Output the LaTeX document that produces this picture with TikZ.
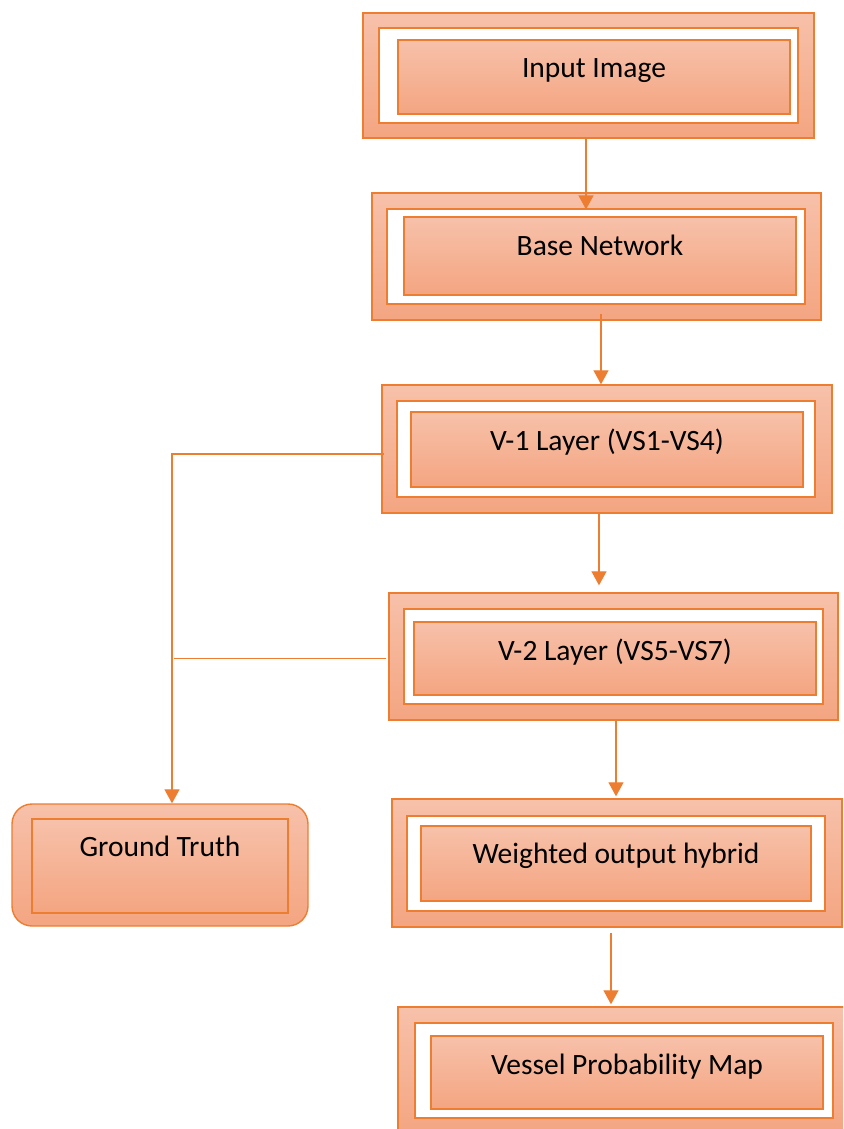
\documentclass[tikz,border=0pt]{standalone}
\usepackage{fontspec}
\setmainfont{Carlito}
\usetikzlibrary{positioning,arrows.meta,calc}
\definecolor{FlowLine}{RGB}{237,125,49}
\definecolor{FlowTop}{RGB}{247,193,170}
\definecolor{FlowBottom}{RGB}{244,165,129}

\begin{document}
\begin{tikzpicture}[
  x=1pt, y=-1pt,
  font=\fontsize{29.5}{35}\selectfont,
  >={Triangle[width=15pt,length=14pt]},
  stageOuter/.style={
    rectangle, draw=FlowLine, line width=1.4pt,
    top color=FlowTop, bottom color=FlowBottom, inner sep=0pt
  },
  stageBand/.style={
    rectangle, draw=FlowLine, line width=1.2pt, fill=white, inner sep=0pt
  },
  stageCore/.style={
    rectangle, draw=FlowLine, line width=1.2pt,
    top color=FlowTop, bottom color=FlowBottom, inner sep=0pt
  },
  caption/.style={anchor=base, inner sep=0pt, text=black},
  arrow/.style={->, line width=1.3pt, draw=FlowLine},
  link/.style={line width=1.3pt, draw=FlowLine}
]
\useasboundingbox (0,0) rectangle (843,1129);
\clip (0,0) rectangle (843,1129);

% Main pipeline: outer frame, white band, core box
\node[stageOuter, minimum width=451pt, minimum height=125pt] (inImg) at (588.5,75.5) {};
\node[stageBand, minimum width=419pt, minimum height=95pt] (inImgBand) at (588.5,75.5) {};
\node[stageCore, minimum width=392pt, minimum height=74pt] (inImgCore) at (594,77) {};

\node[stageOuter, minimum width=449pt, minimum height=127pt] (baseNet) at (596.5,256.5) {};
\node[stageBand, minimum width=418pt, minimum height=95pt] (baseNetBand) at (596,256.5) {};
\node[stageCore, minimum width=392pt, minimum height=78pt] (baseNetCore) at (600,256) {};

\node[stageOuter, minimum width=450pt, minimum height=128pt] (vOne) at (607,449) {};
\node[stageBand, minimum width=418pt, minimum height=96pt] (vOneBand) at (606,449) {};
\node[stageCore, minimum width=392pt, minimum height=75pt] (vOneCore) at (607,449.5) {};

\node[stageOuter, minimum width=449pt, minimum height=127pt] (vTwo) at (613.5,656.5) {};
\node[stageBand, minimum width=419pt, minimum height=95pt] (vTwoBand) at (613.5,656.5) {};
\node[stageCore, minimum width=402pt, minimum height=73pt] (vTwoCore) at (615,658.5) {};

\node[stageOuter, minimum width=450pt, minimum height=128pt] (wOut) at (617,863) {};
\node[stageBand, minimum width=418pt, minimum height=95pt] (wOutBand) at (616,863.5) {};
\node[stageCore, minimum width=390pt, minimum height=75pt] (wOutCore) at (616,863.5) {};

\node[stageOuter, minimum width=450pt, minimum height=127pt] (vpm) at (623,1070.5) {};
\node[stageBand, minimum width=418pt, minimum height=95pt] (vpmBand) at (624,1070.5) {};
\node[stageCore, minimum width=392pt, minimum height=73pt] (vpmCore) at (627,1072.5) {};

% Ground truth box on the left
\node[stageOuter, rounded corners=20pt, minimum width=296pt, minimum height=122pt] (gt) at (160,865) {};
\node[stageCore, minimum width=256pt, minimum height=94pt] (gtCore) at (160,866) {};

% --- captions ---
\node[caption] (inImgTxt) at ($(inImgCore.north)+(0,38)$) {Input Image};
\node[caption] (baseNetTxt) at ($(baseNetCore.north)+(0,39.5)$) {Base Network};
\node[caption] (vOneTxt) at ($(vOneCore.north)+(0,39)$) {V-1 Layer (VS1-VS4)};
\node[caption] (vTwoTxt) at ($(vTwoCore.north)+(0,39.5)$) {V-2 Layer (VS5-VS7)};
\node[caption] (wOutTxt) at ($(wOutCore.north)+(0,38.5)$) {Weighted output hybrid};
\node[caption] (vpmTxt) at ($(vpmCore.north)+(0,39)$) {Vessel Probability Map};
\node[caption] (gtTxt) at ($(gtCore.north)+(0,38.5)$) {Ground Truth};

% --- edges ---
\draw[arrow] ($(inImg.south)+(-2.5,0)$) -- ($(inImg.south |- baseNetBand.north)+(-2.5,1)$);
\draw[arrow] ($(baseNet.south)+(4.5,-7)$) -- ($(baseNet.south |- vOne.north)+(4.5,0)$);
\draw[arrow] ($(vOne.south)+(-8,0)$) -- ($(vOne.south |- vTwo.north)+(-8,-7)$);
\draw[arrow] ($(vTwo.south)+(2.5,0)$) -- ($(vTwo.south |- wOut.north)+(2.5,-2)$);
\draw[arrow] ($(wOut.south)+(-6,5)$) -- ($(wOut.south |- vpm.north)+(-6,-2)$);

% Side branch to ground truth
\draw[arrow] ($(vOne.west)+(3,5)$) -| ($(gt.north)+(12,0)$);
\draw[link] ($(vTwo.west)+(-2,2)$) -- ($(gt.north |- vTwo.west)+(14,2)$);

\end{tikzpicture}
\end{document}
